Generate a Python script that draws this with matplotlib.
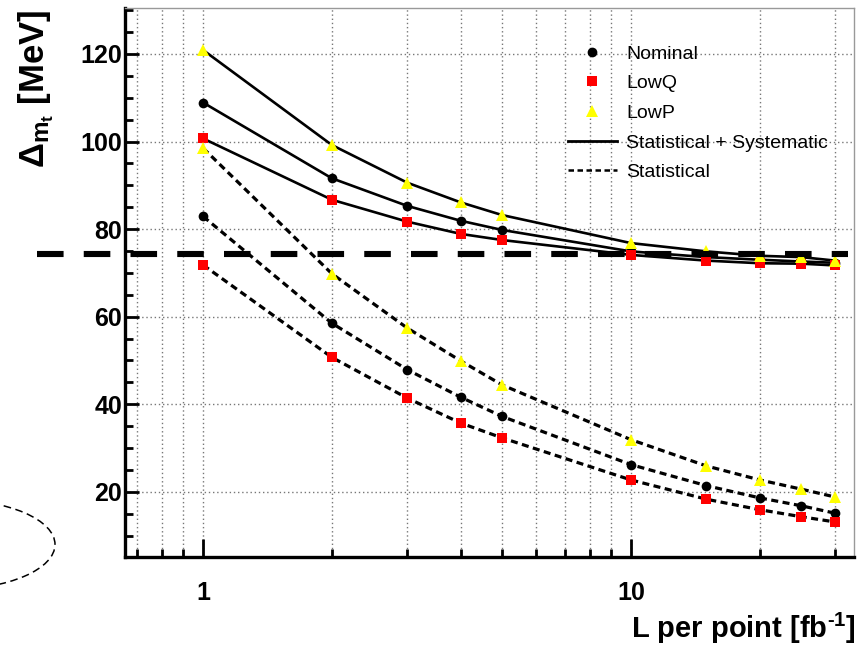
import matplotlib
matplotlib.use("Agg")
import matplotlib.pyplot as plt
from matplotlib.lines import Line2D
from matplotlib.patches import Ellipse
from matplotlib.ticker import FixedLocator, NullFormatter, FixedFormatter

plt.rcParams['font.family'] = ['Liberation Sans', 'DejaVu Sans']
plt.rcParams['mathtext.fontset'] = 'custom'
plt.rcParams['mathtext.rm'] = 'Liberation Sans:bold'
plt.rcParams['mathtext.it'] = 'Liberation Sans:bold'
plt.rcParams['mathtext.bf'] = 'Liberation Sans:bold'

# ---- data ----
lumi = [1, 2, 3, 4, 5, 10, 15, 20, 25, 30]
nominal_total = [108.9, 91.6, 85.3, 81.9, 79.8, 74.9, 73.6, 73.0, 72.6, 72.3]
lowq_total = [100.7, 86.7, 81.7, 78.9, 77.5, 74.1, 72.8, 72.2, 72.1, 71.7]
lowp_total = [120.9, 99.2, 90.6, 86.1, 83.2, 76.8, 74.9, 73.9, 73.6, 72.8]
nominal_stat = [82.9, 58.5, 47.9, 41.6, 37.2, 26.2, 21.4, 18.6, 16.8, 15.1]
lowq_stat = [71.8, 50.7, 41.4, 35.7, 32.3, 22.7, 18.3, 15.9, 14.3, 13.1]
lowp_stat = [98.5, 69.8, 57.4, 49.9, 44.4, 31.9, 25.9, 22.7, 20.6, 18.8]
reference_level = 74.3
series_labels = ["Nominal", "LowQ", "LowP", "Statistical + Systematic", "Statistical"]
x_major = [1, 10]
x_major_labels = ["1", "10"]
y_major = [20, 40, 60, 80, 100, 120]

W, H = 864, 645
fig = plt.figure(figsize=(W / 100, H / 100), dpi=100)
ax_l, ax_r, ax_t, ax_b = 125, 854, 8, 557
ax = fig.add_axes([ax_l / W, 1 - ax_b / H, (ax_r - ax_l) / W, (ax_b - ax_t) / H])

ax.set_xscale('log')
ax.set_xlim(0.657, 33.2)
ax.set_ylim(5.1, 130.5)

# grid
ax.xaxis.set_major_locator(FixedLocator(x_major))
ax.xaxis.set_major_formatter(FixedFormatter(x_major_labels))
minor_x = [0.7, 0.8, 0.9, 2, 3, 4, 5, 6, 7, 8, 9, 20, 30]
ax.xaxis.set_minor_locator(FixedLocator(minor_x))
ax.xaxis.set_minor_formatter(NullFormatter())
ax.yaxis.set_major_locator(FixedLocator(y_major))
ax.yaxis.set_minor_locator(FixedLocator([v for v in range(5, 131, 5) if v not in y_major]))
ax.grid(True, which='major', axis='both', color='#777777', linestyle=(0, (1, 2)), linewidth=1.0)
ax.grid(True, which='minor', axis='x', color='#777777', linestyle=(0, (1, 2)), linewidth=1.0)
ax.set_axisbelow(True)

tick_font = dict(family='Liberation Sans', weight='bold', size=18)
ax.tick_params(axis='both', which='major', direction='in', width=2, length=10, colors='black')
ax.tick_params(axis='both', which='minor', direction='in', width=2, length=6)
ax.tick_params(axis='x', which='major', length=13, pad=17)
ax.tick_params(axis='y', which='major', pad=2)
for lab in ax.get_xticklabels() + ax.get_yticklabels():
    lab.set_fontproperties(matplotlib.font_manager.FontProperties(**tick_font))

for side in ['left', 'bottom']:
    ax.spines[side].set_linewidth(2.4)
for side in ['top', 'right']:
    ax.spines[side].set_linewidth(1.0)
    ax.spines[side].set_color('#999999')

solid_kw = dict(color='black', linewidth=1.9, linestyle='-', zorder=3)
stat_kw = dict(color='black', linewidth=2.3, linestyle=(0, (2.2, 1.4)), zorder=3)
ax.plot(lumi, nominal_total, **solid_kw)
ax.plot(lumi, lowq_total, **solid_kw)
ax.plot(lumi, lowp_total, **solid_kw)
ax.plot(lumi, nominal_stat, **stat_kw)
ax.plot(lumi, lowq_stat, **stat_kw)
ax.plot(lumi, lowp_stat, **stat_kw)

mk_nom = dict(marker='o', color='black', markersize=7, linestyle='none', zorder=4, markeredgewidth=0)
mk_q = dict(marker='s', color='#ff0000', markersize=7, linestyle='none', zorder=4, markeredgewidth=0)
mk_p = dict(marker='^', color='#ffff00', markersize=8.5, linestyle='none', zorder=4, markeredgewidth=0)
for ys in (nominal_total, nominal_stat):
    ax.plot(lumi, ys, **mk_nom)
for ys in (lowq_total, lowq_stat):
    ax.plot(lumi, ys, **mk_q)
for ys in (lowp_total, lowp_stat):
    ax.plot(lumi, ys, **mk_p)

# thick dashed reference line extending left of the axes
ax.axhline(reference_level, xmin=(37 - ax_l) / (ax_r - ax_l), xmax=(848 - ax_l) / (ax_r - ax_l),
           color='black', linewidth=4.4, dashes=(4.35, 3.3), clip_on=False, zorder=6)

# dashed ellipse outside the axes (annotation)
ell = Ellipse((-50 / W, 1 - 544.5 / H), 210 / W, 90 / H, transform=fig.transFigure,
              fill=False, edgecolor='black', linewidth=1.1, linestyle=(0, (5, 3)))
fig.add_artist(ell)

# legend
handles = [
    Line2D([], [], **{k: v for k, v in mk_nom.items() if k != 'zorder'}),
    Line2D([], [], **{k: v for k, v in mk_q.items() if k != 'zorder'}),
    Line2D([], [], **{k: v for k, v in mk_p.items() if k != 'zorder'}),
    Line2D([], [], color='black', linewidth=2.0, linestyle='-'),
    Line2D([], [], color='black', linewidth=1.8, linestyle=(0, (2.2, 1.4))),
]
leg = ax.legend(handles, series_labels, loc='upper left', frameon=False,
                bbox_to_anchor=(568 / W, 1 - 45 / H), bbox_transform=fig.transFigure,
                borderpad=0, borderaxespad=0, handlelength=2.5, handletextpad=0.5,
                labelspacing=0.62, prop=dict(family='Liberation Sans', size=14))
leg.set_zorder(7)

ax.set_xlabel(r'L per point [fb$^{\text{-1}}$]', fontsize=21, fontweight='bold', loc='right')
ax.xaxis.set_label_coords((856 - ax_l) / (ax_r - ax_l), (ax_b - 611) / (ax_b - ax_t))
ax.set_ylabel(r'$\Delta_{m_t}$ [MeV]', fontsize=25, fontweight='bold', loc='top')
ax.yaxis.set_label_coords((56 - ax_l) / (ax_r - ax_l), (ax_b - 9) / (ax_b - ax_t))

fig.savefig('out.png', dpi=100)
